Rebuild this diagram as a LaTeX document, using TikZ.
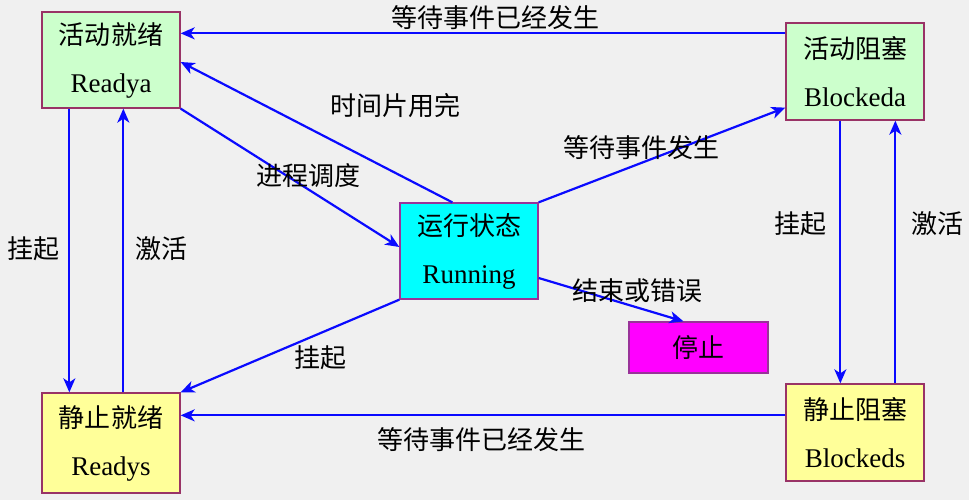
\documentclass[tikz,border=0pt]{standalone}
\usepackage{fontspec}
\setmainfont{Liberation Serif}
\newfontfamily\cjk{Noto Sans CJK SC}
\usetikzlibrary{arrows.meta,calc}
\definecolor{bgc}{HTML}{F0F0F0}
\definecolor{lgreen}{HTML}{CCFFCC}
\definecolor{lyellow}{HTML}{FFFF99}
\definecolor{cyanc}{HTML}{00FFFF}
\definecolor{magc}{HTML}{FF00FF}
\definecolor{bord}{HTML}{993366}
\definecolor{bordp}{HTML}{993399}
\definecolor{arrc}{HTML}{0A0AFF}
\tikzset{
  statebox/.style={draw=bord, line width=1.3bp, minimum width=138bp, minimum height=97bp,
    inner sep=0pt, align=center, font=\cjk\fontsize{26bp}{48bp}\selectfont},
  arr/.style={draw=arrc, line width=2.2bp, -{Stealth[length=14bp,width=12bp,inset=4bp]}},
  lbl/.style={font=\cjk\fontsize{26bp}{30bp}\selectfont, inner sep=0pt},
}
\newcommand{\en}{\fontsize{27bp}{48bp}\selectfont\rmfamily}
\begin{document}
\begin{tikzpicture}[x=1bp,y=-1bp]
\fill[bgc] (0,0) rectangle (969,500);
\useasboundingbox (0,0) rectangle (969,500);

\node[statebox, fill=lgreen, minimum height=96bp] (ra) at (111,60) {活动就绪\\{\en Readya}};
\node[statebox, fill=lgreen] (ba) at (855,71.5) {活动阻塞\\{\en Blockeda}};
\node[statebox, fill=lyellow, minimum height=100bp] (rs) at (111,443) {静止就绪\\{\en Readys}};
\node[statebox, fill=lyellow] (bs) at (855,432.5) {静止阻塞\\{\en Blockeds}};
\node[statebox, fill=cyanc, draw=bordp, minimum height=96bp] (run) at (469,251) {运行状态\\{\en Running}};
\node[statebox, fill=magc, draw=bordp, minimum width=139bp, minimum height=51bp] (stop) at (698.5,347.5) {停止};

% horizontal arrows
\coordinate (t1) at ($(ba.north west)+(0,11)$);
\draw[arr] (t1) -- (t1 -| ra.east);
\coordinate (b1) at ($(bs.north west)+(0,32)$);
\draw[arr] (b1) -- (b1 -| rs.east);

% vertical arrows left
\coordinate (l1) at ($(ra.south west)+(28,0)$);
\draw[arr] (l1) -- (l1 |- rs.north);
\coordinate (l2) at ($(rs.north west)+(82,0)$);
\draw[arr] (l2) -- (l2 |- ra.south);

% vertical arrows right
\coordinate (r1) at ($(ba.south west)+(55,0)$);
\draw[arr] (r1) -- (r1 |- bs.north);
\coordinate (r2) at ($(bs.north west)+(110,0)$);
\draw[arr] (r2) -- (r2 |- ba.south);

% diagonals
\draw[arr] ($(run.north west)+(53,0)$) -- ($(ra.east)+(0,2)$);
\draw[arr] (ra.south east) -- ($(run.west)+(0,-4)$);
\draw[arr] (run.north east) -- ($(ba.south west)+(0,-13)$);
\draw[arr] ($(run.east)+(0,27)$) -- ($(stop.north)+(-15,0)$);
\draw[arr] (run.south west) -- (rs.north east);

% labels
\node[lbl] (L1) at (495,18) {等待事件已经发生};
\node[lbl] (L2) at (395,106) {时间片用完};
\node[lbl] (L3) at (308,176) {进程调度};
\node[lbl] (L4) at (641,148) {等待事件发生};
\node[lbl] (L5) at (637,291) {结束或错误};
\node[lbl] (L6) at (320,358) {挂起};
\node[lbl] (L7) at (481,440) {等待事件已经发生};
\node[lbl] (L8) at (33,249) {挂起};
\node[lbl] (L9) at (161,249) {激活};
\node[lbl] (L10) at (800,224) {挂起};
\node[lbl] (L11) at (937,224) {激活};
\end{tikzpicture}
\end{document}
